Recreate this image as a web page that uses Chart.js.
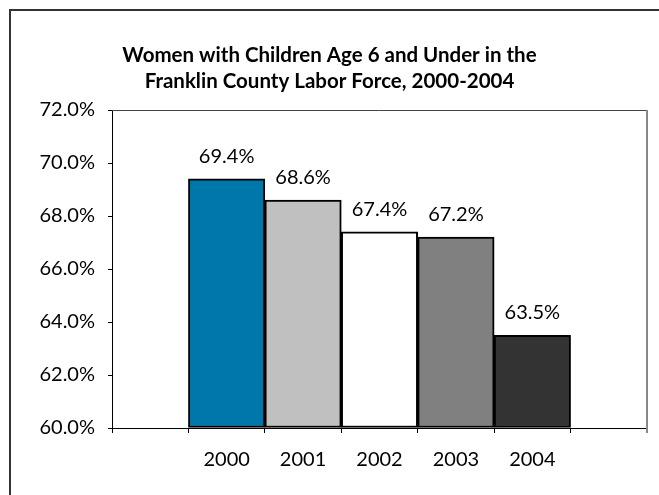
<!DOCTYPE html>
<html>
<head>
<meta charset="utf-8">
<script src="https://cdn.jsdelivr.net/npm/chart.js@4/dist/chart.umd.min.js"></script>
<style>
    html, body { margin: 0; padding: 0; background: #fff; }
    #chart-wrap { width: 659px; height: 495px; }
</style>
</head>
<body>
<div id="chart-wrap"><canvas id="chart" width="659" height="495"></canvas></div>
<script>
const years = ['2000', '2001', '2002', '2003', '2004'];
const shares = [69.4, 68.6, 67.4, 67.2, 63.5];
const barColors = ['#0077aa', '#c0c0c0', '#ffffff', '#808080', '#333333'];
const yTicks = [60, 62, 64, 66, 68, 70, 72];
const titleLines = ['Women with Children Age 6 and Under in the', 'Franklin County Labor Force, 2000-2004'];

(() => {
    const FONT = 'Lato';
    const TEXT_SIZE = 20;

    // one empty slot on each side of the years, like the original sheet
    const labels = ['', ...years, ''];
    const values = [null, ...shares, null];
    const colors = ['#fff', ...barColors, '#fff'];

    const frame = {
        id: 'frame',
        beforeDraw(chart) {
            const { ctx } = chart;
            ctx.save();
            ctx.strokeStyle = '#333';
            ctx.lineWidth = 2;
            ctx.beginPath();
            ctx.moveTo(10, chart.height);
            ctx.lineTo(10, 10);
            ctx.lineTo(chart.width, 10);
            ctx.stroke();
            ctx.restore();
        },
        afterDatasetsDraw(chart) {
            const { ctx, chartArea: a } = chart;
            ctx.save();
            ctx.lineWidth = 1;
            ctx.strokeStyle = '#444';
            ctx.beginPath();
            ctx.moveTo(a.left, a.top + 0.5);
            ctx.lineTo(a.right, a.top + 0.5);
            ctx.stroke();
            ctx.strokeStyle = '#888';
            ctx.lineWidth = 2;
            ctx.beginPath();
            ctx.moveTo(a.right, a.top);
            ctx.lineTo(a.right, a.bottom + 5);
            ctx.stroke();

            // value labels above each bar
            ctx.fillStyle = '#000';
            ctx.font = `${TEXT_SIZE}px ${FONT}`;
            ctx.textAlign = 'center';
            ctx.textBaseline = 'alphabetic';
            chart.getDatasetMeta(0).data.forEach((bar, i) => {
                if (values[i] == null) return;
                ctx.fillText(values[i].toFixed(1) + '%', bar.x, bar.y - 16);
            });
            ctx.restore();
        },
    };

    new Chart(document.getElementById('chart'), {
        type: 'bar',
        data: {
            labels,
            datasets: [{
                data: values,
                base: 60,
                backgroundColor: colors,
                borderColor: '#000',
                borderWidth: 2,
                borderSkipped: false,
                barPercentage: 1,
                categoryPercentage: 1,
            }],
        },
        options: {
            responsive: false,
            animation: false,
            devicePixelRatio: 1,
            layout: { padding: { left: 12, right: 12, top: 0, bottom: 0 } },
            plugins: {
                legend: { display: false },
                tooltip: { enabled: false },
                title: {
                    display: true,
                    text: titleLines,
                    color: '#000',
                    font: { family: FONT, size: 20.5, weight: 'bold', lineHeight: 26 / 20.5 },
                    padding: { top: 42, bottom: 16 },
                },
            },
            scales: {
                x: {
                    grid: {
                        drawOnChartArea: false,
                        drawTicks: true,
                        tickLength: 5,
                        color: '#000',
                    },
                    border: { color: '#000', width: 1 },
                    ticks: {
                        color: '#000',
                        padding: 15,
                        maxRotation: 0,
                        font: { family: FONT, size: TEXT_SIZE },
                    },
                    afterFit(scale) {
                        scale.height = 67;
                    },
                },
                y: {
                    min: yTicks[0],
                    max: yTicks[yTicks.length - 1],
                    afterBuildTicks(scale) {
                        scale.ticks = yTicks.map((v) => ({ value: v }));
                    },
                    grid: {
                        drawOnChartArea: false,
                        drawTicks: true,
                        tickLength: 4,
                        color: '#000',
                    },
                    border: { color: '#000', width: 1 },
                    ticks: {
                        color: '#000',
                        padding: 13,
                        font: { family: FONT, size: TEXT_SIZE },
                        callback: (v) => v.toFixed(1) + '%',
                    },
                    afterFit(scale) {
                        scale.width = 100;
                    },
                },
            },
        },
        plugins: [frame],
    });
})();
</script>
</body>
</html>
